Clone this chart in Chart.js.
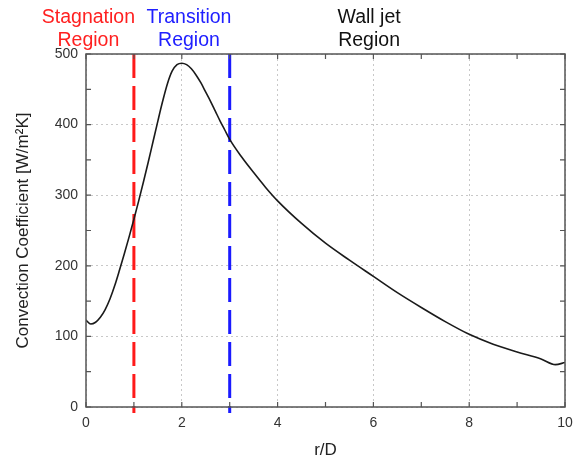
<!DOCTYPE html>
<html lang="en">
<head>
  <meta charset="UTF-8" />
  <title>Convection Coefficient vs r/D</title>
  <script src="https://cdn.jsdelivr.net/npm/chart.js"></script>
  <style>
    body {
      margin: 0;
      background-color: #ffffff;
    }
    .chart-container {
      width: 582px;
      height: 461px;
    }
  </style>
</head>
<body>
  <div class="chart-container">
    <canvas id="hChart"></canvas>
  </div>

  <script>
    // === Data ===
    const rD    = [0, 0.1, 0.2, 0.3, 0.4, 0.5, 0.6, 0.7, 0.8, 0.9, 1.0, 1.1, 1.2, 1.3, 1.4, 1.5, 1.6, 1.7, 1.8, 1.9, 2.0, 2.1, 2.2, 2.3, 2.4, 2.5, 2.6, 2.7, 2.8, 2.9, 3.0, 3.25, 3.5, 3.75, 4.0, 4.5, 5.0, 5.5, 6.0, 6.5, 7.0, 7.5, 8.0, 8.5, 9.0, 9.5, 9.8, 10];
    const hConv = [123, 117.5, 120, 127, 138, 153, 172, 194, 217, 241, 266, 292, 319, 347, 376, 405, 433, 458, 476, 485, 487, 485, 479, 470, 459, 446, 433, 419, 405, 392, 379, 354, 332, 311, 292, 260, 232, 208, 185, 162, 141, 121, 103, 89, 78, 68, 60, 63];

    const xTickValues = [0, 2, 4, 6, 8, 10];
    const xMinorTicks = [1, 3, 5, 7, 9];
    const yTickValues = [0, 100, 200, 300, 400, 500];
    const yMinorTicks = [50, 150, 250, 350, 450];

    // region boundaries and labels
    const boundaries = [1, 3];
    const boundaryColors = ['#ff1a1a', '#1a1aff'];
    const regionNames = [['Stagnation', 'Region'], ['Transition', 'Region'], ['Wall jet', 'Region']];
    const regionColors = ['#ff2020', '#2020ff', '#111111'];
    const regionCenters = [0.05, 2.15, 5.91];

    const curve = rD.map((v, i) => ({ x: v, y: hConv[i] }));

    const boundarySets = boundaries.map((b, i) => ({
      data: [{ x: b, y: 500 }, { x: b, y: -8.5 }],
      borderColor: boundaryColors[i],
      borderWidth: 3,
      borderDash: [24, 8],
      pointRadius: 0,
      clip: false
    }));

    // frame, inward tick marks and region labels
    const framePlugin = {
      id: 'frame',
      afterDraw(chart) {
        const { ctx, chartArea: a, scales: { x, y } } = chart;
        ctx.save();
        ctx.strokeStyle = '#555';
        ctx.lineWidth = 1.5;
        ctx.strokeRect(a.left, a.top, a.right - a.left, a.bottom - a.top);

        ctx.lineWidth = 1.2;
        ctx.beginPath();
        xTickValues.concat(xMinorTicks).forEach(v => {
          const px = x.getPixelForValue(v);
          ctx.moveTo(px, a.bottom); ctx.lineTo(px, a.bottom - 5);
          ctx.moveTo(px, a.top); ctx.lineTo(px, a.top + 5);
        });
        yTickValues.concat(yMinorTicks).forEach(v => {
          const py = y.getPixelForValue(v);
          ctx.moveTo(a.left, py); ctx.lineTo(a.left + 5, py);
          ctx.moveTo(a.right, py); ctx.lineTo(a.right - 5, py);
        });
        ctx.stroke();

        ctx.font = '19.5px "Liberation Sans", Arial, sans-serif';
        ctx.textAlign = 'center';
        ctx.textBaseline = 'alphabetic';
        regionNames.forEach((lines, i) => {
          ctx.fillStyle = regionColors[i];
          const px = x.getPixelForValue(regionCenters[i]);
          lines.forEach((t, j) => ctx.fillText(t, px, 22.5 + j * 23.5));
        });
        ctx.restore();
      }
    };

    const tickFont = { family: '"Liberation Sans", Arial, sans-serif', size: 14 };
    const titleFont = { family: '"Liberation Sans", Arial, sans-serif', size: 17 };

    new Chart(document.getElementById('hChart'), {
      type: 'line',
      data: {
        datasets: [
          {
            data: curve,
            borderColor: '#1a1a1a',
            borderWidth: 1.6,
            pointRadius: 0,
            cubicInterpolationMode: 'monotone'
          },
          ...boundarySets
        ]
      },
      options: {
        responsive: true,
        maintainAspectRatio: false,
        animation: false,
        layout: { padding: { top: 54, right: 17, left: 0, bottom: 0 } },
        plugins: {
          legend: { display: false },
          tooltip: { enabled: false }
        },
        scales: {
          x: {
            type: 'linear',
            min: 0,
            max: 10,
            afterBuildTicks: s => { s.ticks = xTickValues.map(v => ({ value: v })); },
            afterFit: s => { s.height = 54; },
            grid: { color: '#c8c8c8', lineWidth: 1, drawTicks: false },
            border: { display: false, dash: [2, 3] },
            ticks: { font: tickFont, color: '#333', padding: 8, maxRotation: 0 },
            title: { display: true, text: 'r/D', font: titleFont, color: '#222', padding: { top: 0, bottom: 0 } }
          },
          y: {
            min: 0,
            max: 500,
            afterBuildTicks: s => { s.ticks = yTickValues.map(v => ({ value: v })); },
            afterFit: s => { s.width = 86; },
            grid: { color: '#c8c8c8', lineWidth: 1, drawTicks: false },
            border: { display: false, dash: [2, 3] },
            ticks: { font: tickFont, color: '#333', padding: 8 },
            title: { display: true, text: 'Convection Coefficient [W/m²K]', font: titleFont, color: '#222', padding: { top: 13, bottom: 0 } }
          }
        }
      },
      plugins: [framePlugin]
    });
  </script>
</body>
</html>
